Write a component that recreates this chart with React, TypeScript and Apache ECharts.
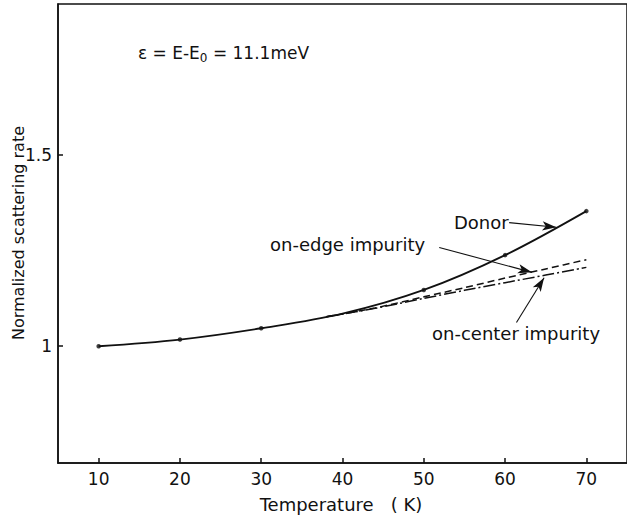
import React, { useEffect, useRef } from "react";
import * as echarts from "echarts";

// Donor curve (solid, with computed points)
const donorT = [10, 20, 30, 40, 50, 60, 70];
const donorRate = [1.0, 1.0175, 1.047, 1.085, 1.147, 1.238, 1.353];
// Computed points marked with dots
const dotT = [10, 20, 30, 50, 60, 70];
const dotRate = [1.0, 1.0175, 1.047, 1.147, 1.238, 1.353];
// On-edge impurity (dashed)
const edgeT = [38, 44, 50, 55, 60, 65, 70];
const edgeRate = [1.077, 1.1, 1.129, 1.153, 1.178, 1.202, 1.226];
// On-center impurity (dash-dot)
const centerT = [38, 44, 50, 55, 60, 65, 70];
const centerRate = [1.077, 1.099, 1.125, 1.146, 1.166, 1.186, 1.206];

const xTicks = [10, 20, 30, 40, 50, 60, 70];
const yTicks = [1, 1.5];

// Arrow annotations [from, to] in data coordinates
const donorArrow = [[60.5, 1.323], [66.3, 1.311]];
const edgeArrow = [[51.9, 1.258], [63.3, 1.193]];
const centerArrow = [[61.4, 1.062], [64.8, 1.179]];

const FONT = "DejaVu Sans";
const INK = "#111";

export default function App() {
  const ref = useRef<HTMLDivElement>(null);
  useEffect(() => {
    if (!ref.current) return;
    const chart = echarts.init(ref.current, undefined, { renderer: "svg" });
    const zip = (a: number[], b: number[]) => a.map((v, i) => [v, b[i]]);
    const arrow = (a: number[][]) => [
      { coord: a[0], symbol: "none" },
      { coord: a[1], symbol: "arrow", symbolSize: [7, 14] },
    ];
    chart.setOption({
      animation: false,
      backgroundColor: "#fff",
      grid: {
        left: 58,
        top: 4,
        right: 0,
        bottom: 60,
        show: true,
        borderColor: INK,
        borderWidth: 1.5,
        containLabel: false,
      },
      xAxis: {
        type: "value",
        min: 5,
        max: 75,
        axisLine: { show: true, lineStyle: { color: INK, width: 1.5 } },
        axisTick: {
          show: true,
          inside: true,
          length: 5,
          customValues: xTicks,
          lineStyle: { color: INK, width: 1.5 },
        },
        axisLabel: {
          customValues: xTicks,
          color: INK,
          fontFamily: FONT,
          fontSize: 17,
          margin: 7,
        },
        splitLine: { show: false },
      },
      yAxis: {
        type: "value",
        min: 0.695,
        max: 1.894,
        axisLine: { show: true, lineStyle: { color: INK, width: 1.5 } },
        axisTick: {
          show: true,
          inside: true,
          length: 5,
          customValues: yTicks,
          lineStyle: { color: INK, width: 1.5 },
        },
        axisLabel: {
          customValues: yTicks,
          color: INK,
          fontFamily: FONT,
          fontSize: 17,
          margin: 6,
          formatter: (v: number) => String(v),
        },
        splitLine: { show: false },
      },
      series: [
        {
          name: "Donor",
          type: "line",
          data: zip(donorT, donorRate),
          smooth: 0.35,
          showSymbol: false,
          lineStyle: { color: INK, width: 1.8 },
          markLine: {
            silent: true,
            symbol: ["none", "arrow"],
            label: { show: false },
            lineStyle: { color: INK, width: 1.1, type: "solid" },
            data: [arrow(donorArrow), arrow(edgeArrow), arrow(centerArrow)],
          },
        },
        {
          name: "on-edge impurity",
          type: "line",
          data: zip(edgeT, edgeRate),
          smooth: 0.3,
          showSymbol: false,
          lineStyle: { color: INK, width: 1.5, type: [7, 4] },
        },
        {
          name: "on-center impurity",
          type: "line",
          data: zip(centerT, centerRate),
          smooth: 0.3,
          showSymbol: false,
          lineStyle: { color: INK, width: 1.5, type: [12, 3, 2, 3] },
        },
        {
          name: "points",
          type: "scatter",
          data: zip(dotT, dotRate),
          symbol: "circle",
          symbolSize: 4.5,
          itemStyle: { color: INK },
        },
      ],
      graphic: [
        {
          type: "text",
          left: 138,
          top: 44,
          style: {
            text: "{n|ε = E-E}{s|0}{n| = 11.1meV}",
            rich: {
              n: { fontFamily: FONT, fontSize: 17, fill: INK },
              s: { fontFamily: FONT, fontSize: 12, fill: INK, padding: [10, 0, 0, 0] },
            },
          },
        },
        {
          type: "text",
          x: 454,
          y: 222,
          style: { text: "Donor", fontFamily: FONT, fontSize: 18, fill: INK, textVerticalAlign: "middle" },
        },
        {
          type: "text",
          x: 270,
          y: 244,
          style: { text: "on-edge impurity", fontFamily: FONT, fontSize: 18, fill: INK, textVerticalAlign: "middle" },
        },
        {
          type: "text",
          x: 432,
          y: 333,
          style: { text: "on-center impurity", fontFamily: FONT, fontSize: 18, fill: INK, textVerticalAlign: "middle" },
        },
        {
          type: "text",
          x: 341,
          y: 504,
          style: {
            text: "Temperature   ( K)",
            fontFamily: FONT,
            fontSize: 18,
            fill: INK,
            textAlign: "center",
            textVerticalAlign: "middle",
          },
        },
        {
          type: "text",
          x: 18,
          y: 233,
          rotation: Math.PI / 2,
          style: {
            text: "Normalized scattering rate",
            fontFamily: FONT,
            fontSize: 16,
            fill: INK,
            textAlign: "center",
            textVerticalAlign: "middle",
          },
        },
      ],
    });
    return () => chart.dispose();
  }, []);
  return (
    <div
      ref={ref}
      style={{ position: "fixed", left: 0, top: 0, width: 627, height: 523, background: "#fff" }}
    />
  );
}
